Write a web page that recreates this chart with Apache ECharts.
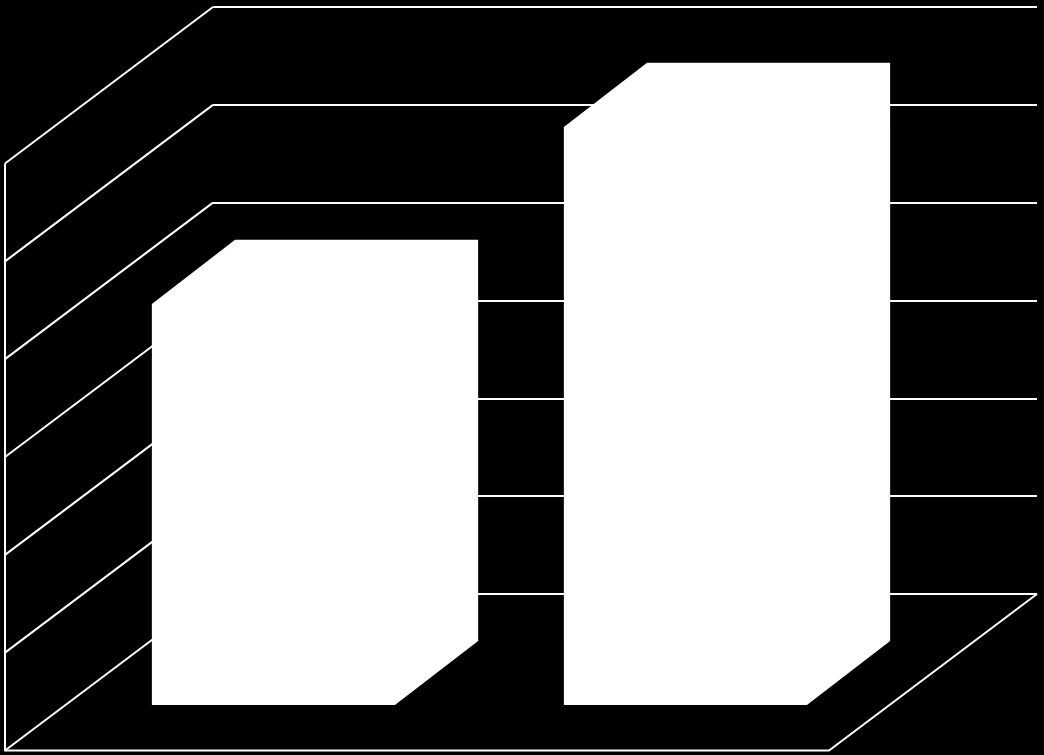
<!DOCTYPE html>
<html>
<head>
<meta charset="utf-8">
<style>html,body{margin:0;padding:0;background:#000;}#c{width:1044px;height:755px;}</style>
<script src="https://cdn.jsdelivr.net/npm/echarts@6/dist/echarts.min.js"></script>
</head>
<body>
<div id="c"></div>
<script>
var categories = ['A', 'B'];
var values = [4.1, 5.91];
var yTicks = [0, 1, 2, 3, 4, 5, 6];

var depth = [-208, 156.5];
var barBack = 0.3, barFrontX = 0.7, barFrontY = 0.71, barWidthRatio = 0.59;
var lineStyle = {stroke: '#fff', lineWidth: 2, fill: null};

function wallItem(params, api) {
  var cs = params.coordSys;
  var y = api.coord([0, api.value(0)])[1];
  var left = cs.x;
  var children = [{
    type: 'polyline',
    shape: {points: [[left, y], [left + depth[0], y + depth[1]]]},
    style: lineStyle
  }];
  if (api.value(0) === 0) {
    var top = cs.y;
    var fy = y + depth[1];
    children.push({
      type: 'polyline',
      shape: {points: [
        [left + depth[0], top + depth[1]],
        [left + depth[0], fy],
        [left + cs.width + depth[0], fy],
        [left + cs.width, y]
      ]},
      style: lineStyle
    });
  }
  return {type: 'group', children: children};
}

function barItem(params, api) {
  var i = api.value(0);
  var top = api.coord([i, api.value(1)]);
  var base = api.coord([i, 0]);
  var half = api.size([1, 0])[0] * barWidthRatio / 2;
  var bx = depth[0] * barBack, by = depth[1] * barBack;
  var fx = depth[0] * barFrontX, fy = depth[1] * barFrontY;
  var xl = top[0] - half, xr = top[0] + half;
  return {
    type: 'polygon',
    shape: {points: [
      [xl + fx, base[1] + fy],
      [xl + fx, top[1] + fy],
      [xl + bx, top[1] + by],
      [xr + bx, top[1] + by],
      [xr + bx, base[1] + by],
      [xr + fx, base[1] + fy]
    ]},
    style: {fill: '#fff'}
  };
}

var chart = echarts.init(document.getElementById('c'));
chart.setOption({
  backgroundColor: '#000',
  animation: false,
  grid: {left: 213, right: 7, top: 7, bottom: 161, containLabel: false},
  xAxis: {
    type: 'category',
    data: categories,
    axisLine: {show: false},
    axisTick: {show: false},
    axisLabel: {show: false}
  },
  yAxis: {
    type: 'value',
    min: 0,
    max: 6,
    interval: 1,
    axisLine: {show: false},
    axisTick: {show: false},
    axisLabel: {show: false},
    splitLine: {show: true, lineStyle: {color: '#fff', width: 2, type: 'solid'}}
  },
  series: [
    {
      type: 'custom',
      z: 2,
      clip: false,
      renderItem: wallItem,
      encode: {y: 0},
      data: yTicks.map(function (t) { return [t]; })
    },
    {
      type: 'custom',
      z: 3,
      clip: false,
      renderItem: barItem,
      encode: {x: 0, y: 1},
      data: values.map(function (v, i) { return [i, v]; })
    }
  ]
});
</script>
</body>
</html>
